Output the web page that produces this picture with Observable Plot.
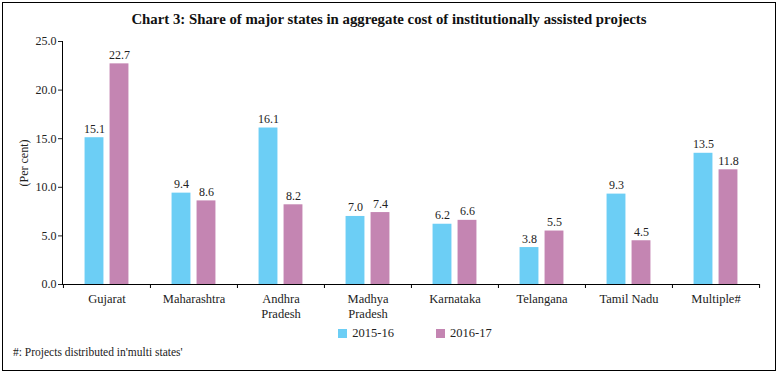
<!DOCTYPE html>
<html>
<head>
<meta charset="utf-8">
<script src="https://cdn.jsdelivr.net/npm/d3@7"></script>
<script src="https://cdn.jsdelivr.net/npm/@observablehq/plot@0.6"></script>
<style>
  html, body { margin: 0; padding: 0; background: #fff; }
  #box {
    position: absolute; left: 2px; top: 2px; width: 772px; height: 367px;
    border: 1px solid #000; font-family: "Liberation Serif", "DejaVu Serif", serif; color: #222;
  }
  #title { height: 30px; line-height: 32px; text-align: center; font-weight: bold; font-size: 14.8px; color: #111; padding-left: 0; }
  #chart svg, #chart svg text { font-family: "Liberation Serif", "DejaVu Serif", serif !important; }
  #legend { height: 22px; display: flex; justify-content: center; align-items: center; gap: 42px; font-size: 12.5px; padding-left: 52px; }
  .sw { display: inline-block; width: 9px; height: 9px; margin-right: 5px; vertical-align: -1px; }
  #note { font-size: 11.5px; padding-left: 10px; margin-top: 2px; }
</style>
</head>
<body>
<div id="box">
  <div id="title">Chart 3: Share of major states in aggregate cost of institutionally assisted projects</div>
  <div id="chart"></div>
  <div id="legend"></div>
  <div id="note">#: Projects distributed in'multi states'</div>
</div>
<script>
const states = ["Gujarat", "Maharashtra", "Andhra\nPradesh", "Madhya\nPradesh", "Karnataka", "Telangana", "Tamil Nadu", "Multiple#"];
const series = ["2015-16", "2016-17"];
const values2015 = [15.1, 9.4, 16.1, 7.0, 6.2, 3.8, 9.3, 13.5];
const values2016 = [22.7, 8.6, 8.2, 7.4, 6.6, 5.5, 4.5, 11.8];
const yTicks = [0, 5, 10, 15, 20, 25];
const colors = ["#6ccef5", "#c485b2"];

const d15 = states.map((s, i) => ({state: s, series: series[0], value: values2015[i]}));
const d16 = states.map((s, i) => ({state: s, series: series[1], value: values2016[i]}));

const W = 772, ML = 59, MR = 16;
const bw = (W - ML - MR) / states.length;
const half = bw / 2;
const barW = 19, off = 12.5;

const plot = Plot.plot({
  width: W,
  height: 289,
  marginLeft: ML,
  marginRight: MR,
  marginTop: 8,
  marginBottom: 38,
  style: {fontSize: "12px", color: "#222", background: "#fff"},
  x: {domain: states, padding: 0, axis: null, label: null},
  y: {domain: [0, 25], axis: null},
  marks: [
    Plot.barY(d15, {x: "state", y: "value", fill: colors[0],
      insetLeft: half - off - barW / 2, insetRight: half + off - barW / 2}),
    Plot.barY(d16, {x: "state", y: "value", fill: colors[1],
      insetLeft: half + off - barW / 2, insetRight: half - off - barW / 2}),
    Plot.text(d15, {x: "state", y: "value", text: d => d.value.toFixed(1), dx: -off, dy: -5, lineAnchor: "bottom", fill: "#222", fontSize: 12}),
    Plot.text(d16, {x: "state", y: "value", text: d => d.value.toFixed(1), dx: off, dy: -5, lineAnchor: "bottom", fill: "#222", fontSize: 12}),
    Plot.axisY({ticks: yTicks, tickFormat: d3.format(".1f"), tickSize: 4, tickPadding: 2, fontSize: 12,
      label: "(Per cent)", labelAnchor: "center", labelArrow: "none", labelOffset: 43}),
    Plot.frame({anchor: "left", stroke: "#000"}),
    Plot.ruleY([0], {stroke: "#000"}),
    Plot.axisX({ticks: states, tickSize: 0, tickPadding: 7, fontSize: 12.5, lineHeight: 1.25, label: null}),
    Plot.axisX({ticks: states, tickSize: 4, text: null, dx: -half, stroke: "#000", label: null}),
    Plot.axisX({ticks: [states[states.length - 1]], tickSize: 4, text: null, dx: half, stroke: "#000", label: null})
  ]
});
document.getElementById("chart").appendChild(plot);

const leg = document.getElementById("legend");
series.forEach((s, i) => {
  const span = document.createElement("span");
  span.innerHTML = `<span class="sw" style="background:${colors[i]}"></span>${s}`;
  leg.appendChild(span);
});
</script>
</body>
</html>
